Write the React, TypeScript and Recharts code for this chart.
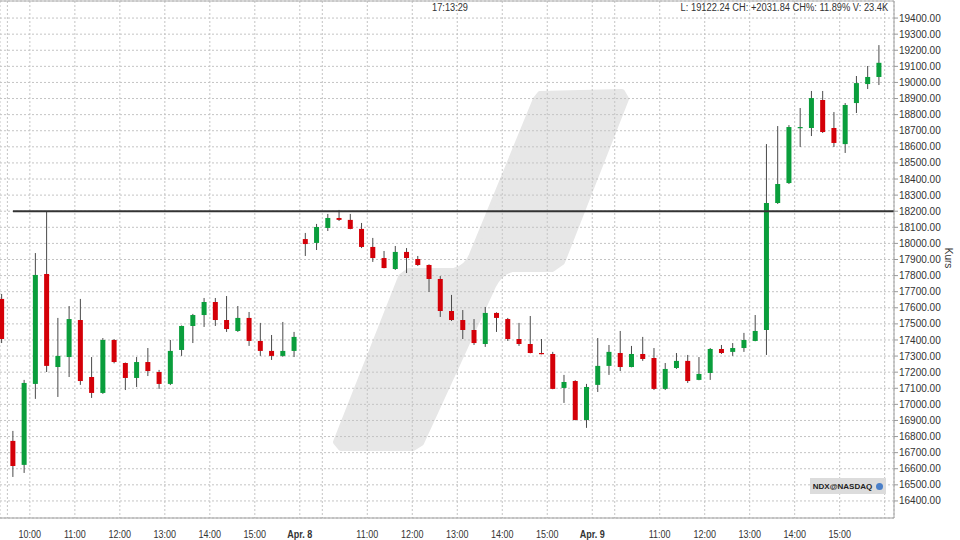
import React from 'react'
import {
  Bar,
  CartesianGrid,
  ComposedChart,
  ReferenceLine,
  XAxis,
  YAxis,
} from 'recharts'

// 15-minute candles, NDX: last bar of Apr 4, then Apr 7, Apr 8, Apr 9
const openPrices = [
  17655,
  16773, 16624, 17127, 17810, 17232, 17294, 17524, 17170, 17071, 17400, 17257, 17164, 17263,
  17201, 17127, 17338, 17487, 17555, 17636, 17524, 17456, 17537, 17394, 17332, 17301, 17332,
  18027, 18003, 18096, 18158, 18146, 18090, 17978, 17909, 17841, 17947, 17903, 17866, 17779,
  17580, 17524, 17462, 17375, 17568, 17530, 17406, 17375, 17319, 17313, 17102, 17145, 16903,
  17121, 17239, 17319, 17232, 17313, 17288, 17096, 17226, 17270, 17152, 17195, 17344, 17326,
  17350, 17394, 17462, 18251, 18375, 18717, 18717, 18891, 18717, 18617, 18872, 18990, 19034,
]
const highPrices = [
  17686,
  16835, 17152, 17940, 18195, 17537, 17611, 17655, 17294, 17412, 17406, 17260, 17294, 17350,
  17214, 17400, 17490, 17562, 17661, 17661, 17673, 17611, 17574, 17506, 17431, 17512, 17450,
  18065, 18121, 18183, 18208, 18183, 18127, 18034, 17953, 17984, 17971, 17922, 17870, 17797,
  17680, 17586, 17530, 17605, 17572, 17537, 17506, 17549, 17406, 17326, 17183, 17150, 17127,
  17412, 17369, 17456, 17363, 17419, 17350, 17257, 17319, 17307, 17294, 17350, 17369, 17381,
  17444, 17555, 18617, 18729, 18735, 18841, 18947, 18947, 18816, 18872, 19040, 19102, 19232,
]
const lowPrices = [
  17381,
  16549, 16574, 17034, 17201, 17046, 17170, 17121, 17040, 17065, 17255, 17089, 17108, 17176,
  17096, 17120, 17301, 17381, 17481, 17487, 17450, 17450, 17363, 17301, 17276, 17295, 17294,
  17922, 17959, 18077, 18139, 18088, 17971, 17885, 17845, 17835, 17816, 17860, 17698, 17543,
  17518, 17406, 17369, 17357, 17450, 17394, 17363, 17317, 17311, 17094, 17009, 16901, 16854,
  17077, 17183, 17207, 17230, 17270, 17089, 17089, 17220, 17133, 17150, 17152, 17313, 17301,
  17326, 17392, 17307, 18245, 18369, 18599, 18667, 18686, 18599, 18562, 18810, 18959, 18984,
]
const closePrices = [
  17406,
  16617, 17133, 17804, 17239, 17301, 17530, 17145, 17071, 17400, 17263, 17164, 17263, 17207,
  17127, 17332, 17487, 17555, 17636, 17524, 17468, 17537, 17394, 17332, 17301, 17332, 17419,
  17996, 18102, 18158, 18146, 18090, 17978, 17909, 17847, 17947, 17909, 17866, 17779, 17580,
  17524, 17462, 17381, 17568, 17537, 17406, 17375, 17319, 17313, 17096, 17139, 16903, 17108,
  17239, 17326, 17232, 17313, 17282, 17096, 17220, 17270, 17145, 17189, 17344, 17319, 17350,
  17400, 17456, 18251, 18369, 18723, 18723, 18903, 18692, 18624, 18860, 18996, 19034, 19122,
]

const sessionDates = ['Apr. 7', 'Apr. 8', 'Apr. 9']
const barsPerSession = 26
const hourLabels = ['10:00', '11:00', '12:00', '13:00', '14:00', '15:00']
const hourBarOffsets = [2, 6, 10, 14, 18, 22]

const yTicks = [
  16400, 16500, 16600, 16700, 16800, 16900, 17000, 17100, 17200, 17300, 17400,
  17500, 17600, 17700, 17800, 17900, 18000, 18100, 18200, 18300, 18400, 18500,
  18600, 18700, 18800, 18900, 19000, 19100, 19200, 19300, 19400,
]
const resistanceLevel = 18200
const headerClock = '17:13:29'
const headerStats = 'L: 19122.24 CH: +2031.84 CH%: 11.89% V: 23.4K'
const symbolName = 'NDX@NASDAQ'

const UP = '#0a9e3c'
const DOWN = '#d40008'
const FONT = '"Liberation Sans", Arial, sans-serif'

const candles = openPrices.map((open, i) => ({
  i,
  open,
  high: highPrices[i],
  low: lowPrices[i],
  close: closePrices[i],
}))

// grid/tick positions: session boundaries (9:30) and full hours
const xTickLabel: Record<number, { text: string; bold: boolean }> = {}
sessionDates.forEach((date, d) => {
  const start = 0.5 + d * barsPerSession
  xTickLabel[start] = { text: d === 0 ? '' : date, bold: true }
  hourBarOffsets.forEach((off, k) => {
    xTickLabel[start + off] = { text: d > 0 && k === 0 ? '' : hourLabels[k], bold: false }
  })
})
xTickLabel[0.5 + sessionDates.length * barsPerSession] = { text: '', bold: false }
const xTicks = Object.keys(xTickLabel).map(Number).sort((a, b) => a - b)

const X_MIN = -0.156
const X_MAX = 79.33

function Candle(props: any) {
  const { x, y, width, height, payload } = props
  if (payload == null || height == null) return null
  const cx = x + width / 2
  const ppu = height / (payload.high - payload.low)
  const top = Math.max(payload.open, payload.close)
  const bot = Math.min(payload.open, payload.close)
  const by = y + (payload.high - top) * ppu
  const bh = Math.max((top - bot) * ppu, 1.2)
  const up = payload.close >= payload.open
  return (
    <g>
      <line x1={cx} x2={cx} y1={y} y2={y + height} stroke="#4a4a4a" strokeWidth={1} />
      <rect x={cx - 2.5} y={by} width={5} height={bh} fill={up ? UP : DOWN} />
    </g>
  )
}

function XTick(props: any) {
  const { x, y, payload } = props
  const info = xTickLabel[payload.value]
  if (!info || !info.text) return null
  return (
    <text
      x={x}
      y={y + 12}
      textAnchor="middle"
      fontSize={10}
      fontFamily={FONT}
      fontWeight={info.bold ? 'bold' : 'normal'}
      fill="#333"
      transform={`translate(${x} 0) scale(0.9 1) translate(${-x} 0)`}
    >
      {info.text}
    </text>
  )
}

function Watermark() {
  return (
    <svg
      width={960}
      height={540}
      style={{ position: 'absolute', left: 0, top: 0 }}
    >
      <path
        d="M540 94 L622 92 L626 99 L562 262 L552 269 L512 269 Q500 272 493 286 L421 443 L413 448 L341 448 L336 442 L401 277 L409 271 L454 271 Q467 268 472 255 L536 99 Z"
        fill="#e7e7e7"
        stroke="#e7e7e7"
        strokeWidth={6}
        strokeLinejoin="round"
      />
    </svg>
  )
}

export default function App() {
  return (
    <div
      style={{
        position: 'absolute',
        left: 0,
        top: 0,
        width: 960,
        height: 540,
        background: '#fff',
        fontFamily: FONT,
      }}
    >
      <Watermark />
      <div style={{ position: 'absolute', left: 0, top: 0 }}>
        <ComposedChart
          width={960}
          height={540}
          data={candles}
          margin={{ top: 1, right: 0, bottom: 0, left: 0 }}
        >
          <CartesianGrid stroke="#c4c4c4" strokeDasharray="2 2" />
          <XAxis
            dataKey="i"
            type="number"
            domain={[X_MIN, X_MAX]}
            allowDataOverflow
            ticks={xTicks}
            interval={0}
            height={22}
            tickLine={false}
            axisLine={{ stroke: '#a0a0a0' }}
            tick={<XTick />}
          />
          <YAxis
            orientation="right"
            type="number"
            domain={[16294, 19506]}
            allowDataOverflow
            ticks={yTicks}
            interval={0}
            width={66}
            tickSize={4}
            tickMargin={1}
            tickLine={{ stroke: '#999' }}
            axisLine={{ stroke: '#a0a0a0' }}
            tickFormatter={(v: number) => v.toFixed(2)}
            tick={{ fill: '#333', fontSize: 10, fontFamily: FONT, textAnchor: 'start' }}
          />
          <ReferenceLine y={19506} stroke="#b0b0b0" />
          <Bar
            dataKey={(d: any) => [d.low, d.high]}
            barSize={5}
            shape={<Candle />}
            isAnimationActive={false}
          />
          <ReferenceLine
            segment={[
              { x: 1, y: resistanceLevel },
              { x: X_MAX, y: resistanceLevel },
            ]}
            stroke="#333"
            strokeWidth={2}
          />
        </ComposedChart>
      </div>
      <div
        style={{
          position: 'absolute',
          left: 400,
          width: 100,
          top: 2,
          textAlign: 'center',
          fontSize: 10,
          color: '#333',
          transform: 'scaleX(0.92)',
        }}
      >
        {headerClock}
      </div>
      <div
        style={{
          position: 'absolute',
          right: 72,
          top: 2,
          fontSize: 10,
          color: '#333',
          whiteSpace: 'nowrap',
          transform: 'scaleX(0.93)',
          transformOrigin: 'right center',
        }}
      >
        {headerStats}
      </div>
      <div
        style={{
          position: 'absolute',
          left: 948,
          top: 258,
          transform: 'translate(-50%, -50%) rotate(90deg)',
          fontSize: 10,
          color: '#333',
        }}
      >
        Kurs
      </div>
      <div
        style={{
          position: 'absolute',
          left: 810,
          top: 478,
          width: 76,
          height: 16,
          background: '#dcdcdc',
          display: 'flex',
          alignItems: 'center',
          justifyContent: 'center',
          gap: 4,
          fontSize: 8,
          fontWeight: 'bold',
          color: '#222',
        }}
      >
        <span>{symbolName}</span>
        <span
          style={{
            width: 7,
            height: 7,
            borderRadius: '50%',
            background: '#4a7fc8',
            display: 'inline-block',
          }}
        />
      </div>
    </div>
  )
}
